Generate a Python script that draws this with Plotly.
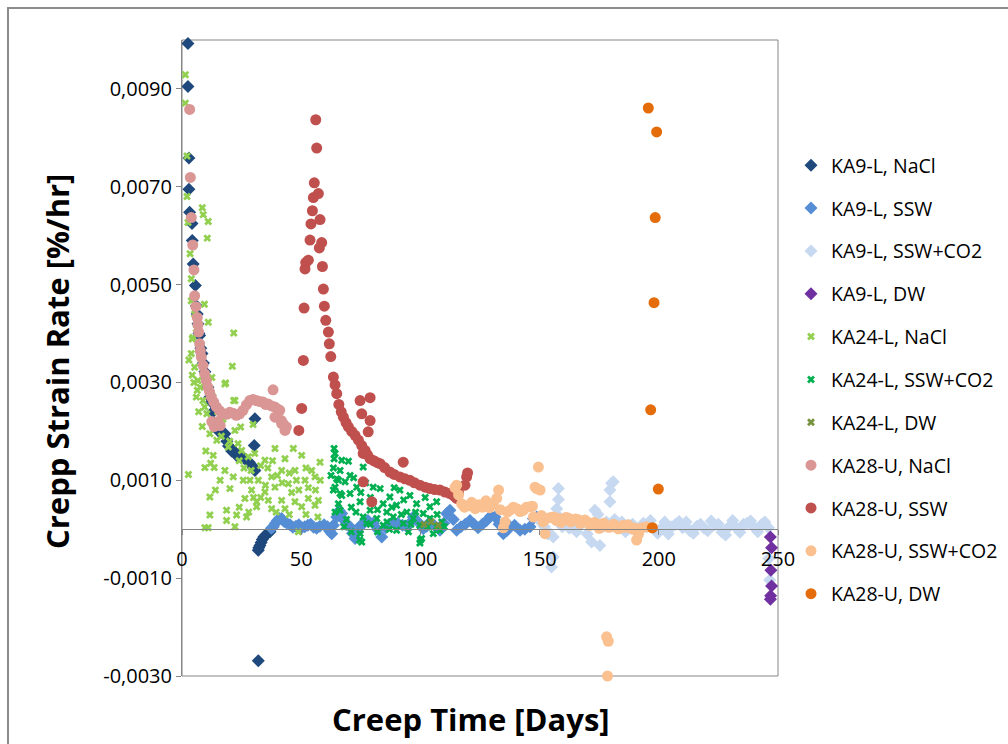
import plotly.graph_objects as go

# ---------------- data (Creep time [days], strain rate [%/hr]) ----------------
ka9l_nacl_x = [2.5, 2.5, 2.9, 2.9, 3.2, 4.2, 4.3, 4.7, 5.6, 6.0, 6.4, 6.7, 7.1, 7.4, 7.9, 8.4, 9.0, 9.6,
               10.2, 10.9, 11.6, 12.3, 13.0, 13.8, 14.6, 15.5, 16.4, 17.2, 18.0, 18.8, 19.5, 20.1, 20.8,
               21.5, 22.2, 23.0, 23.8, 25.0, 26.0, 27.1, 28.2, 29.2, 30.0, 30.6, 30.3, 30.6,
               32.0, 32.2, 32.7, 33.2, 33.7, 34.3, 35.1, 36.0, 36.9, 32.0]
ka9l_nacl_y = [0.00993, 0.00905, 0.00759, 0.00695, 0.00648, 0.00625, 0.00590, 0.00542, 0.00498, 0.00457,
               0.00440, 0.00420, 0.00400, 0.00396, 0.00370, 0.00359, 0.00340, 0.00322, 0.00308, 0.00290,
               0.00270, 0.00260, 0.00240, 0.00216, 0.00210, 0.00200, 0.00198, 0.00196, 0.00195, 0.00180,
               0.00170, 0.00168, 0.00160, 0.00160, 0.00158, 0.00150, 0.00152, 0.00148, 0.00145, 0.00141,
               0.00137, 0.00131, 0.00125, 0.00120, 0.00171, 0.00226,
               -0.00043, -0.00038, -0.00033, -0.00027, -0.00021, -0.00016, -0.00012, -0.00008, -0.00005,
               -0.00269]

ka9l_ssw_x = [37.5, 38.3, 39.2, 40.0, 40.8, 41.8, 42.8, 43.8, 45.3, 46.5, 47.8, 49.0, 50.2, 51.5, 52.8,
              54.0, 55.2, 56.5, 57.8, 59.6, 61.0, 62.0, 62.8, 63.5, 64.9, 66.0, 67.0, 67.7, 68.8, 70.5,
              71.5, 72.6, 73.8, 75.0, 76.5, 78.0, 80.2, 82.0, 83.8, 85.5, 87.0, 88.6, 90.5, 92.5, 94.3,
              95.8, 97.0, 98.8, 101.2, 102.6, 104.0, 106.0, 108.2, 109.8, 111.0, 112.4, 113.8, 115.2,
              117.0, 118.8, 120.8, 122.5, 124.2, 126.0, 127.8, 129.5, 131.3, 133.0, 134.8, 136.2, 137.6,
              139.5, 141.8, 143.8, 146.0, 147.4, 148.8]
ka9l_ssw_y = [0.00002, 0.00005, 0.00012, 0.00018, 0.00022, 0.00022, 0.00016, 0.00013, 0.00009, 0.00004,
              0.00006, 0.00009, 0.00003, 0.00005, 0.00008, 0.00010, 0.00004, 0.00002, 0.00006, 0.00009,
              0.00005, -0.00004, -0.00009, 0.00008, 0.00025, 0.00038, 0.00032, 0.00020, 0.00010, 0.00005,
              -0.00008, -0.00019, -0.00005, 0.00008, 0.00013, 0.00018, 0.00012, 0.00000, -0.00016, 0.00003,
              0.00010, 0.00015, 0.00012, 0.00008, 0.00005, 0.00014, 0.00025, 0.00016, 0.00001, 0.00006,
              0.00015, 0.00007, -0.00002, 0.00012, 0.00032, 0.00039, 0.00020, -0.00002, 0.00005, 0.00010,
              0.00018, 0.00010, 0.00003, 0.00010, 0.00018, 0.00027, 0.00025, 0.00010, -0.00009, -0.00003,
              0.00005, 0.00008, -0.00002, 0.00000, 0.00005, 0.00022, 0.00025]

ka9l_sswco2_x = [150.5, 152.0, 153.5, 154.5, 155.0, 155.7, 155.7, 156.5, 157.2, 157.9, 157.9, 158.3, 159.5,
                 161.0, 162.5, 164.0, 165.5, 167.0, 168.5, 170.0, 171.8, 172.5, 173.2, 174.5, 175.3, 176.5,
                 178.0, 179.5, 179.5, 180.2, 180.9, 181.5, 183.0, 184.5, 186.0, 187.5, 189.0, 190.5, 192.0,
                 193.5, 195.0, 196.5, 198.0, 199.5, 201.0, 202.5, 204.0, 205.5, 207.0, 208.5, 210.0, 211.5,
                 213.0, 214.5, 216.0, 217.5, 219.0, 220.5, 222.0, 223.5, 225.0, 226.5, 228.0, 229.5, 231.0,
                 232.5, 234.0, 235.5, 237.0, 238.5, 240.0, 241.5, 243.0, 244.5, 246.0, 246.2, 246.5]
ka9l_sswco2_y = [0.00015, 0.00005, -0.00010, -0.00010, -0.00077, -0.00057, -0.00016, 0.00020, 0.00042,
                 0.00061, 0.00083, 0.00025, 0.00005, 0.00010, 0.00002, 0.00012, -0.00005, 0.00008, 0.00015,
                 -0.00010, -0.00026, 0.00010, 0.00039, 0.00030, -0.00033, 0.00005, 0.00015, 0.00056, 0.00080,
                 0.00094, 0.00097, 0.00020, 0.00005, 0.00015, -0.00005, 0.00008, 0.00010, 0.00002, 0.00000,
                 0.00012, 0.00005, 0.00018, 0.00000, -0.00008, 0.00002, 0.00015, -0.00010, 0.00005, 0.00010,
                 0.00016, 0.00003, 0.00015, -0.00003, -0.00008, 0.00006, 0.00010, 0.00002, -0.00003, 0.00017,
                 0.00009, 0.00010, -0.00006, -0.00012, 0.00005, 0.00018, 0.00003, -0.00006, 0.00010, 0.00012,
                 0.00017, 0.00004, -0.00005, 0.00009, 0.00015, 0.00003, -0.00060, -0.00104]

ka9l_dw_x = [246.8, 247.3, 247.0, 247.3, 246.9, 246.8]
ka9l_dw_y = [-0.00016, -0.00038, -0.00084, -0.00116, -0.00136, -0.00143]

ka24l_nacl_x = [1.4, 1.4, 2.1, 2.1, 2.5, 3.4, 3.9, 3.9, 8.5, 8.9, 11.0, 10.6, 9.4, 11.0, 4.6, 3.9, 4.3, 2.9,
                5.3, 6.7, 6.4, 8.8, 9.5, 21.7, 21.1, 18.3, 21.7, 18.0, 7.6, 22.2, 10.4, 15.9, 11.7, 14.6,
                22.2, 19.4, 25.0, 13.1, 27.8, 9.6, 13.5, 2.7, 18.0, 21.5, 25.7, 34.8, 39.0, 43.2, 46.7,
                50.2, 57.9, 54.4, 47.4, 41.8, 37.6, 32.0, 28.5, 20.1, 29.2, 34.8, 39.0, 44.6, 51.6, 55.8,
                11.7, 26.4, 31.3, 36.2, 41.8, 47.4, 53.0, 57.2, 31.3, 37.6, 43.2, 50.2, 55.8, 18.7, 11.7,
                22.9, 27.1, 18.7, 22.2, 9.6, 11.0, 48.8, 29.8, 24.6, 5.3, 6.0, 7.2, 8.0, 12.5, 13.0, 15.0,
                16.5, 17.2, 20.0, 23.5, 24.0, 26.0, 29.0, 30.5, 33.0, 36.0, 38.0, 40.0, 42.0, 45.0, 46.0,
                48.0, 49.0, 52.0, 53.0, 56.0, 58.0, 35.0, 33.0, 30.0, 39.5, 45.0, 52.0, 57.0, 28.0, 24.0,
                16.0, 14.0, 12.0, 10.0, 8.5, 7.0, 6.0, 5.0, 4.3]
ka24l_nacl_y = [0.00929, 0.00871, 0.00763, 0.00680, 0.00627, 0.00563, 0.00512, 0.00467, 0.00657, 0.00643,
                0.00629, 0.00595, 0.00460, 0.00423, 0.00392, 0.00359, 0.00389, 0.00346, 0.00331, 0.00304,
                0.00284, 0.00263, 0.00250, 0.00401, 0.00333, 0.00299, 0.00263, 0.00297, 0.00290, 0.00263,
                0.00236, 0.00219, 0.00195, 0.00182, 0.00202, 0.00168, 0.00161, 0.00151, 0.00148, 0.00126,
                0.00126, 0.00112, 0.00120, 0.00107, 0.00100, 0.00141, 0.00165, 0.00144, 0.00165, 0.00151,
                0.00137, 0.00120, 0.00120, 0.00120, 0.00107, 0.00100, 0.00100, 0.00083, 0.00080, 0.00076,
                0.00086, 0.00093, 0.00100, 0.00107, 0.00066, 0.00063, 0.00056, 0.00059, 0.00059, 0.00056,
                0.00063, 0.00059, 0.00046, 0.00042, 0.00042, 0.00046, 0.00049, 0.00039, 0.00029, 0.00029,
                0.00025, 0.00018, 0.00005, 0.00003, 0.00003, -0.00005, 0.00214, 0.00209, 0.00440, 0.00410,
                0.00370, 0.00340, 0.00310, 0.00270, 0.00240, 0.00190, 0.00225, 0.00180, 0.00175, 0.00140,
                0.00125, 0.00120, 0.00155, 0.00130, 0.00125, 0.00140, 0.00110, 0.00095, 0.00115, 0.00075,
                0.00100, 0.00080, 0.00125, 0.00085, 0.00080, 0.00100, 0.00090, 0.00065, 0.00065, 0.00035,
                0.00030, 0.00030, 0.00025, 0.00035, 0.00045, 0.00100, 0.00080, 0.00135, 0.00160, 0.00210,
                0.00240, 0.00270, 0.00300, 0.00315]

ka24l_sswco2_x = [63.8, 63.8, 67.0, 69.8, 66.3, 70.5, 76.0, 64.9, 68.4, 73.3, 80.2, 83.1, 63.5, 67.0, 70.5,
                  87.2, 91.4, 95.6, 74.7, 80.2, 84.4, 90.0, 98.4, 104.0, 106.8, 66.3, 78.9, 85.9, 94.3,
                  101.2, 76.0, 81.7, 88.6, 97.0, 104.0, 77.5, 84.4, 92.8, 99.8, 106.8, 74.7, 75.4, 90.0,
                  100.5, 99.8, 105.4, 108.2, 64.2, 65.6, 64.2, 66.3, 65.6, 64.2, 72.0, 71.0, 69.0, 73.0,
                  75.0, 77.0, 79.0, 82.0, 86.0, 88.0, 89.0, 93.0, 96.0, 98.0, 102.0, 103.0, 107.0, 109.0,
                  110.0, 79.0, 82.0, 87.0, 92.0, 95.0, 68.0, 71.0, 74.5, 100.0, 63.5, 62.5]
ka24l_sswco2_y = [0.00165, 0.00144, 0.00141, 0.00139, 0.00120, 0.00110, 0.00127, 0.00103, 0.00097, 0.00086,
                  0.00086, 0.00083, 0.00080, 0.00069, 0.00073, 0.00066, 0.00080, 0.00069, 0.00056, 0.00056,
                  0.00052, 0.00049, 0.00052, 0.00046, 0.00056, 0.00039, 0.00039, 0.00035, 0.00035, 0.00032,
                  0.00025, 0.00022, 0.00025, 0.00022, 0.00022, 0.00012, 0.00008, 0.00012, 0.00008, 0.00005,
                  -0.00009, -0.00026, -0.00002, -0.00019, -0.00028, -0.00009, -0.00002, 0.00155, 0.00100,
                  0.00086, 0.00073, 0.00052, 0.00035, 0.00105, 0.00045, 0.00020, 0.00035, 0.00075, 0.00095,
                  0.00065, 0.00040, 0.00015, 0.00045, 0.00085, 0.00060, 0.00010, 0.00035, 0.00065, 0.00005,
                  0.00030, 0.00015, 0.00005, 0.00010, -0.00005, 0.00000, 0.00030, -0.00005, 0.00005, -0.00005,
                  -0.00022, -0.00022, 0.00125, 0.00110]

ka24l_dw_x = [101.5, 104.5, 107.5]
ka24l_dw_y = [0.00010, 0.00015, 0.00008]

ka28u_nacl_x = [3.2, 3.5, 3.9, 4.5, 5.0, 5.3, 5.8, 6.4, 6.7, 7.0, 7.4, 7.7, 8.1, 8.8, 9.5, 10.2, 10.9, 11.6,
                12.3, 13.3, 14.4, 15.8, 17.2, 18.6, 20.0, 21.4, 22.8, 24.2, 25.6, 27.0, 28.4, 29.8, 31.2,
                32.6, 34.0, 35.0, 36.1, 37.5, 38.9, 40.0, 41.0, 41.7, 42.5, 43.2, 43.8, 39.0, 41.8, 38.2,
                12.5, 13.5, 15.0, 16.0]
ka28u_nacl_y = [0.00858, 0.00719, 0.00637, 0.00581, 0.00530, 0.00477, 0.00455, 0.00433, 0.00418, 0.00403,
                0.00379, 0.00365, 0.00352, 0.00335, 0.00318, 0.00304, 0.00290, 0.00280, 0.00270, 0.00260,
                0.00250, 0.00242, 0.00236, 0.00235, 0.00239, 0.00237, 0.00233, 0.00236, 0.00243, 0.00254,
                0.00263, 0.00265, 0.00263, 0.00261, 0.00260, 0.00255, 0.00256, 0.00252, 0.00250, 0.00246,
                0.00243, 0.00222, 0.00215, 0.00202, 0.00209, 0.00229, 0.00216, 0.00285,
                0.00220, 0.00210, 0.00220, 0.00212]

ka28u_ssw_x = [49.0, 50.2, 50.9, 51.2, 51.6, 51.9, 53.0, 53.7, 54.1, 54.7, 55.1, 55.5, 56.1, 56.5, 57.2,
               57.6, 57.9, 58.6, 58.9, 59.3, 59.7, 60.3, 61.4, 61.8, 62.4, 63.5, 64.2, 64.9, 65.8, 66.8,
               67.7, 68.8, 69.8, 71.2, 72.6, 74.0, 75.4, 76.8, 77.8, 78.9, 80.5, 82.0, 83.1, 85.0, 87.2,
               89.0, 91.4, 93.5, 95.6, 97.5, 99.8, 102.0, 104.0, 106.0, 108.2, 110.3, 112.4, 114.0, 115.2,
               116.0, 118.7, 119.4, 119.8, 74.7, 78.9, 75.4, 78.9, 78.1, 76.0, 79.6, 76.0, 92.8]
ka28u_ssw_y = [0.00202, 0.00247, 0.00345, 0.00452, 0.00532, 0.00545, 0.00550, 0.00591, 0.00624, 0.00651,
               0.00678, 0.00708, 0.00837, 0.00779, 0.00686, 0.00575, 0.00633, 0.00586, 0.00537, 0.00491,
               0.00456, 0.00427, 0.00403, 0.00379, 0.00353, 0.00311, 0.00295, 0.00277, 0.00255, 0.00240,
               0.00229, 0.00218, 0.00209, 0.00200, 0.00192, 0.00182, 0.00171, 0.00161, 0.00152, 0.00144,
               0.00140, 0.00136, 0.00134, 0.00126, 0.00117, 0.00112, 0.00107, 0.00103, 0.00100, 0.00095,
               0.00090, 0.00086, 0.00083, 0.00081, 0.00080, 0.00076, 0.00073, 0.00068, 0.00063, 0.00075,
               0.00090, 0.00107, 0.00115, 0.00263, 0.00269, 0.00236, 0.00222, 0.00199, 0.00097, 0.00056,
               0.00155, 0.00137]

ka28u_sswco2_x = [114.5, 115.2, 116.0, 117.3, 118.5, 120.0, 121.5, 123.0, 124.5, 126.0, 127.5, 129.0, 130.5,
                  132.0, 132.8, 133.5, 134.8, 135.5, 136.5, 137.6, 139.0, 140.4, 141.8, 143.2, 144.5, 146.0,
                  147.0, 147.4, 148.1, 148.8, 149.5, 150.2, 150.8, 151.5, 152.3, 153.0, 154.5, 156.0, 157.0,
                  158.0, 159.0, 160.0, 161.0, 162.0, 163.0, 164.0, 165.0, 166.0, 167.0, 168.0, 169.0, 170.0,
                  171.0, 172.0, 173.0, 174.0, 175.0, 176.0, 177.0, 178.0, 179.0, 180.0, 181.0, 182.0, 183.0,
                  184.0, 185.0, 186.0, 187.0, 188.0, 189.0, 190.0, 190.7, 191.5, 193.0, 195.0,
                  178.1, 178.8, 178.5]
ka28u_sswco2_y = [0.00085, 0.00090, 0.00070, 0.00052, 0.00045, 0.00048, 0.00055, 0.00042, 0.00050, 0.00045,
                  0.00058, 0.00044, 0.00052, 0.00063, 0.00080, 0.00040, 0.00003, 0.00015, 0.00035, 0.00039,
                  0.00045, 0.00042, 0.00036, 0.00039, 0.00045, 0.00046, 0.00047, 0.00025, 0.00086, 0.00083,
                  0.00127, 0.00080, 0.00028, 0.00015, -0.00009, 0.00022, 0.00024, 0.00025, 0.00018, 0.00022,
                  0.00014, 0.00020, 0.00024, 0.00023, 0.00015, 0.00018, 0.00021, 0.00020, 0.00012, 0.00016,
                  0.00019, 0.00015, 0.00008, 0.00012, 0.00014, 0.00009, 0.00002, 0.00010, 0.00012, 0.00006,
                  0.00004, 0.00005, 0.00010, 0.00007, 0.00001, 0.00003, 0.00008, 0.00004, 0.00009, 0.00005,
                  0.00000, 0.00002, -0.00022, -0.00010, 0.00003, 0.00005,
                  -0.00220, -0.00229, -0.00300]

ka28u_dw_x = [195.6, 199.1, 198.5, 198.0, 196.6, 199.8, 197.3]
ka28u_dw_y = [0.00861, 0.00812, 0.00637, 0.00463, 0.00244, 0.00082, 0.00003]

y_tick_vals = [-0.003, -0.001, 0.001, 0.003, 0.005, 0.007, 0.009]
y_tick_text = ["-0,0030", "-0,0010", "0,0010", "0,0030", "0,0050", "0,0070", "0,0090"]
x_tick_vals = [0, 50, 100, 150, 200, 250]
x_tick_text = ["0", "50", "100", "150", "200", "250"]

series = [
    ("KA9-L, NaCl", ka9l_nacl_x, ka9l_nacl_y, "#1F497D", "diamond", 10),
    ("KA9-L, SSW", ka9l_ssw_x, ka9l_ssw_y, "#558ED5", "diamond", 10),
    ("KA9-L, SSW+CO2", ka9l_sswco2_x, ka9l_sswco2_y, "#C6D9F1", "diamond", 10),
    ("KA9-L, DW", ka9l_dw_x, ka9l_dw_y, "#7030A0", "diamond", 10),
    ("KA24-L, NaCl", ka24l_nacl_x, ka24l_nacl_y, "#92D050", "x", 7),
    ("KA24-L, SSW+CO2", ka24l_sswco2_x, ka24l_sswco2_y, "#00B050", "x", 7),
    ("KA24-L, DW", ka24l_dw_x, ka24l_dw_y, "#77933C", "x", 7),
    ("KA28-U, NaCl", ka28u_nacl_x, ka28u_nacl_y, "#D99694", "circle", 11),
    ("KA28-U, SSW", ka28u_ssw_x, ka28u_ssw_y, "#C0504D", "circle", 11),
    ("KA28-U, SSW+CO2", ka28u_sswco2_x, ka28u_sswco2_y, "#FAC090", "circle", 11),
    ("KA28-U, DW", ka28u_dw_x, ka28u_dw_y, "#E46C0A", "circle", 11),
]

FONT = "Open Sans"
W, H = 1008, 744
L, R, T, B = 182, 778, 40, 676      # plot-area box in pixels
YMIN, YMAX = -0.003, 0.01

fig = go.Figure()
for i, (name, xs, ys, col, sym, sz) in enumerate(series):
    fig.add_trace(go.Scatter(
        x=xs, y=ys, mode="markers", name=name, legendgroup="g%d" % i,
        cliponaxis=False,
        marker=dict(color=col, symbol=sym, size=sz, line=dict(width=0)),
    ))

# paper spans from x=L to the right page edge, y from B to T
def px_x(p):
    return (p - L) / (W - L)

def px_y(p):
    return (B - p) / (B - T)

fig.update_layout(
    width=W, height=H,
    margin=dict(l=L, r=0, t=T, b=H - B, pad=0, autoexpand=False),
    paper_bgcolor="white", plot_bgcolor="white",
    font=dict(family=FONT, size=20, color="#000000"),
    showlegend=True,
    legend=dict(x=px_x(791), xanchor="left", y=px_y(146), yanchor="top",
                font=dict(family=FONT, size=19.5, color="#000000"),
                tracegroupgap=14.5, bgcolor="rgba(0,0,0,0)", itemsizing="trace"),
    xaxis=dict(range=[0, 250], domain=[0, (R - L) / (W - L)],
               tickvals=x_tick_vals, ticktext=x_tick_text,
               showgrid=False, zeroline=False, showline=True, linecolor="#868686", linewidth=1,
               ticks="outside", ticklen=5, tickcolor="#868686", ticklabelstandoff=7,
               anchor="free", position=(0 - YMIN) / (YMAX - YMIN),
               tickfont=dict(family=FONT, size=20, color="#000000")),
    yaxis=dict(range=[YMIN, YMAX], domain=[0, 1], tickvals=y_tick_vals, ticktext=y_tick_text,
               showgrid=False, zeroline=False, showline=True, linecolor="#868686", linewidth=1,
               ticks="outside", ticklen=5, tickcolor="#868686",
               tickfont=dict(family=FONT, size=20, color="#000000")),
    shapes=[
        dict(type="rect", xref="x domain", yref="y domain", x0=0, x1=1, y0=0, y1=1,
             line=dict(color="#868686", width=1), layer="below"),
        dict(type="rect", xref="paper", yref="paper",
             x0=px_x(8), x1=px_x(1030), y0=px_y(770), y1=px_y(8),
             line=dict(color="#8C8C8C", width=2), layer="below"),
    ],
    annotations=[
        dict(text="<b>Crepp Strain Rate [%/hr]</b>", xref="paper", yref="paper",
             x=px_x(57), y=px_y(362), textangle=-90, showarrow=False,
             xanchor="center", yanchor="middle",
             font=dict(family=FONT, size=31, color="#000000")),
        dict(text="<b>Creep Time [Days]</b>", xref="paper", yref="paper",
             x=px_x(471), y=px_y(719), showarrow=False,
             xanchor="center", yanchor="middle",
             font=dict(family=FONT, size=31, color="#000000")),
    ],
)

fig.write_html("out.html")
